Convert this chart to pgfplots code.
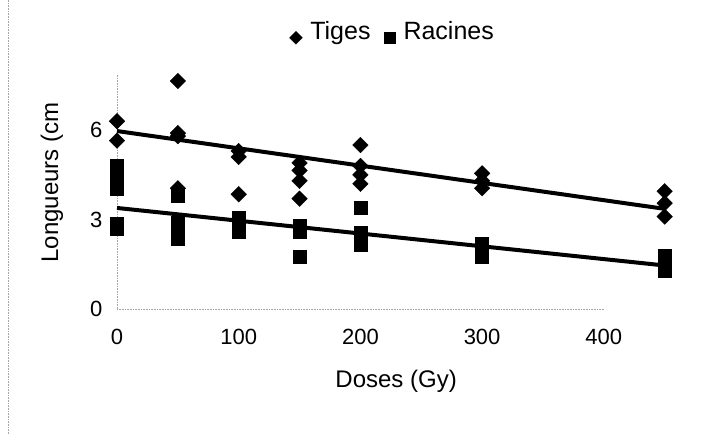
\documentclass[border=0pt]{standalone}
\usepackage{fontspec}
\setmainfont{Liberation Sans}
\usepackage{pgfplots}
\pgfplotsset{compat=1.18}

\begin{document}
\begin{tikzpicture}[x=1pt,y=1pt]
\path[use as bounding box] (0,0) rectangle (706,434);
\draw[gray!70, densely dotted, line width=0.6pt] (8,0) -- (8,434);
\begin{axis}[
  at={(117pt,125pt)}, anchor=south west,
  scale only axis, width=572pt, height=234pt,
  xmin=0, xmax=470, ymin=0, ymax=7.85,
  xtick={0,100,200,300,400}, ytick={0,3,6},
  axis x line=bottom, axis y line=left,
  axis line style={gray!70, densely dotted, line width=0.6pt, -},
  x axis line style={draw=none},
  tick style={draw=none},
  clip=false,
  /pgf/number format/assume math mode=true,
  tick label style={font=\fontsize{22}{26}\selectfont},
  xticklabel style={yshift=-14pt},
  yticklabel style={xshift=-9pt},
  xlabel={Doses (Gy)}, ylabel={Longueurs (cm},
  label style={font=\fontsize{24}{28}\selectfont},
  xlabel style={at={(axis description cs:0.488,-0.3077)}, anchor=center},
  ylabel style={at={(axis description cs:-0.1136,0.54)}, anchor=center},
  legend style={draw=none, fill=none, at={(axis description cs:0.482,1.184)},
    anchor=center, legend columns=-1, font=\fontsize{25}{30}\selectfont,
    /tikz/every odd column/.append style={column sep=6pt},
    /tikz/every even column/.append style={column sep=12pt}},
  legend image code/.code={\draw[#1] plot coordinates {(0.2cm,-0.22cm)};},
]
% legend entries
\addlegendimage{only marks, black, mark=square*, mark options={rotate=45}, mark size=4.5pt}
\addlegendentry{Tiges}
\addlegendimage{only marks, black, mark=square*, mark size=5.5pt}
\addlegendentry{Racines}

% short dotted x axis line, as in the scan
\draw[gray!70, densely dotted, line width=0.6pt] (axis cs:0,0) -- (axis cs:400,0);

% Tiges
\addplot[only marks, black, mark=square*, mark options={rotate=45}, mark size=5.5pt, forget plot] table {
x y
0 6.3
0 5.65
50 7.65
50 5.9
50 5.8
50 4.05
100 5.3
100 5.1
100 3.85
150 4.9
150 4.65
150 4.3
150 3.7
200 5.5
200 4.8
200 4.5
200 4.2
300 4.55
300 4.3
300 4.05
450 3.95
450 3.55
450 3.1
};
% Racines
\addplot[only marks, black, mark=square*, mark size=6.5pt, forget plot] table {
x y
0 4.8
0 4.6
0 4.2
0 4.05
0 2.85
0 2.7
50 3.8
50 2.9
50 2.7
50 2.5
50 2.35
100 3.05
100 2.8
100 2.6
150 2.8
150 2.6
150 1.75
200 3.4
200 2.55
200 2.35
200 2.15
300 2.2
300 2.0
300 1.75
450 1.8
450 1.55
450 1.3
};
% trend lines
\addplot[black, line width=4pt, forget plot] coordinates {(0,5.97) (450,3.36)};
\addplot[black, line width=4pt, forget plot] coordinates {(0,3.39) (450,1.46)};
\end{axis}
\end{tikzpicture}
\end{document}
